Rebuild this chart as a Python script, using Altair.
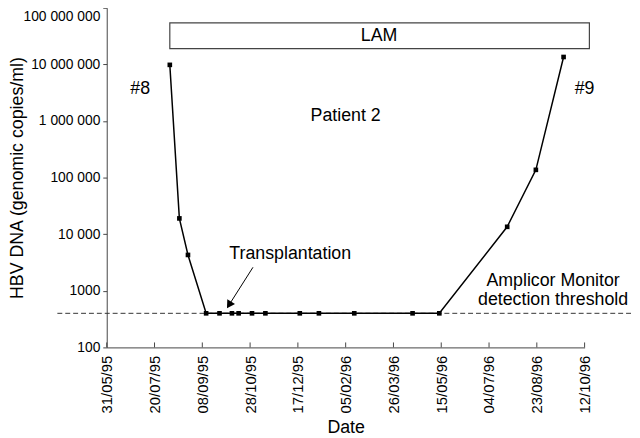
import altair as alt
import pandas as pd

# ---- data ----
dates = ["1995-08-05", "1995-08-15", "1995-08-24", "1995-09-12", "1995-09-26",
         "1995-10-09", "1995-10-16", "1995-10-30", "1995-11-13", "1995-12-19",
         "1996-01-08", "1996-02-14", "1996-04-15", "1996-05-13", "1996-07-23",
         "1996-08-22", "1996-09-20"]
hbv = [9800000, 19000, 4300, 400, 400, 400, 400, 400, 400, 400,
       400, 400, 400, 400, 13500, 137000, 13500000]

tick_dates = ["1995-05-31", "1995-07-20", "1995-09-08", "1995-10-28", "1995-12-17",
              "1996-02-05", "1996-03-26", "1996-05-15", "1996-07-04", "1996-08-23",
              "1996-10-12"]
y_ticks = [100, 1000, 10000, 100000, 1000000, 10000000, 100000000]
y_tick_labels = ["100", "1000", "10 000", "100 000", "1 000 000", "10 000 000", "100 000 000"]

threshold = 400
lam_start, lam_end = "1995-08-05", "1996-10-17"
lam_low, lam_high = 19000000, 54000000

ann_text = ["LAM", "#8", "#9", "Patient 2", "Transplantation",
            "Amplicor Monitor", "detection threshold"]
ann_date = ["1996-03-11", "1995-07-05", "1996-10-12", "1996-02-05", "1995-12-09",
            "1996-09-09", "1996-09-09"]
ann_value = [32000000, 3700000, 3700000, 1200000, 4400, 1480, 690]

arrow_date = ["1995-10-31", "1995-10-06"]
arrow_value = [2600, 563]

# ---- helpers ----
def to_ms(s):
    return int(pd.Timestamp(s, tz="UTC").timestamp() * 1000)

FONT = "Liberation Sans"
W, H = 484, 344

label_expr = ""
for v, lab in zip(y_ticks, y_tick_labels):
    label_expr += f"datum.value == {v} ? '{lab}' : "
label_expr += "''"

top_test = f"datum.value >= {y_ticks[-1]}"

x_enc = alt.X(
    "date:T",
    scale=alt.Scale(type="utc", domain=[to_ms(tick_dates[0]), to_ms(tick_dates[-1])]),
    axis=alt.Axis(
        values=[to_ms(d) for d in tick_dates],
        labelExpr="utcFormat(datum.value, '%d/%m/%y')",
        labelAngle=-90, ticks=False, labelPadding=8, labelFontSize=15,
        labelFlush=False, labelOverlap=False,
        title="Date", titleFontSize=18, titlePadding=6,
    ),
)
y_enc = alt.Y(
    "value:Q",
    scale=alt.Scale(type="log", domain=[y_ticks[0], y_ticks[-1]], nice=False),
    axis=alt.Axis(
        values=y_ticks, labelExpr=label_expr, tickSize=4, labelPadding=3,
        labelFontSize=14, labelFlush=False, labelOverlap=False,
        labelBaseline={"condition": {"test": top_test, "value": "top"}, "value": "middle"},
        labelOffset={"condition": {"test": top_test, "value": 2}, "value": 0},
        title="HBV DNA (genomic copies/ml)", titleFontSize=18,
        titleX=-99, titleY=H / 2, titleBaseline="top", titleAlign="center",
    ),
)

series = pd.DataFrame({"date": dates, "value": hbv})
thr_df = pd.DataFrame({"date": [tick_dates[0]], "value": [threshold]})
lam_df = pd.DataFrame({"date": [lam_start], "date2": [lam_end],
                       "value": [lam_low], "value2": [lam_high]})
ann_df = pd.DataFrame({"date": ann_date, "value": ann_value, "label": ann_text})
arrow_df = pd.DataFrame({"date": arrow_date, "value": arrow_value})
head_df = arrow_df.iloc[[1]]
ticks_df = pd.DataFrame({"date": tick_dates, "value": [y_ticks[0]] * len(tick_dates)})

thr = alt.Chart(thr_df).mark_rule(color="#333", strokeWidth=1, strokeDash=[5, 3]).encode(
    y=y_enc, x=alt.value(-50), x2=alt.value(W + 48))

line = alt.Chart(series).mark_line(color="black", strokeWidth=1.5).encode(x=x_enc, y=y_enc)
pts = alt.Chart(series).mark_square(color="black", size=22, opacity=1).encode(x=x_enc, y=y_enc)

lam = alt.Chart(lam_df).mark_rect(fill="white", stroke="#444", strokeWidth=1.2).encode(
    x=x_enc, x2="date2:T", y=y_enc, y2="value2:Q")

texts = alt.Chart(ann_df).mark_text(font=FONT, fontSize=18, color="black",
                                    align="center", baseline="middle").encode(
    x=x_enc, y=y_enc, text="label:N")

arrow = alt.Chart(arrow_df).mark_line(color="black", strokeWidth=1).encode(x=x_enc, y=y_enc)
head = alt.Chart(head_df).mark_point(shape="triangle-down", filled=True, color="black",
                                     size=85, angle=32, opacity=1).encode(x=x_enc, y=y_enc)

xticks = alt.Chart(ticks_df).mark_rule(color="#444", strokeWidth=1).encode(
    x=x_enc, y=alt.value(H), y2=alt.value(H - 5))

chart = alt.layer(thr, lam, line, pts, arrow, head, texts, xticks).properties(
    width=W, height=H,
    autosize=alt.AutoSizeParams(type="none"),
    padding={"left": 100, "top": -3, "right": 48, "bottom": 89},
).configure_view(stroke=None).configure_axis(
    grid=False, domainColor="#444", tickColor="#444", labelColor="black",
    titleColor="black", labelFont=FONT, titleFont=FONT, titleFontWeight="normal",
)

chart.save("out.html", embed_options={"renderer": "svg", "actions": False})
